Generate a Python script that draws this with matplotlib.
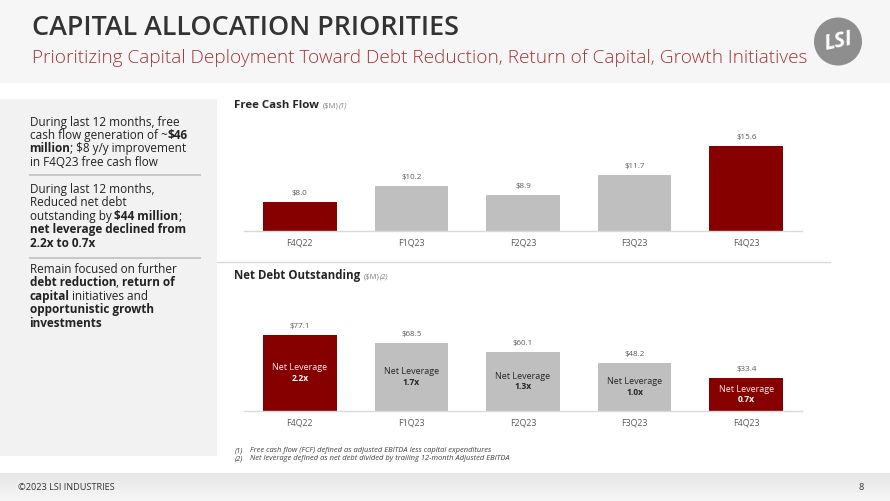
import matplotlib
matplotlib.use("Agg")
import matplotlib.pyplot as plt
from matplotlib.patches import Rectangle, Circle
from matplotlib.colors import LinearSegmentedColormap
import numpy as np

# ---------------- data ----------------
quarters = ["F4Q22", "F1Q23", "F2Q23", "F3Q23", "F4Q23"]
fcf = [8.0, 10.2, 8.9, 11.7, 15.6]
net_debt = [77.1, 68.5, 60.1, 48.2, 33.4]
net_leverage = ["2.2x", "1.7x", "1.3x", "1.0x", "0.7x"]
highlight = [True, False, False, False, True]

title = "CAPITAL ALLOCATION PRIORITIES"
subtitle = "Prioritizing Capital Deployment Toward Debt Reduction, Return of Capital, Growth Initiatives"
fcf_title = "Free Cash Flow"
debt_title = "Net Debt Outstanding"
footnotes = [("(1)", "Free cash flow (FCF) defined as adjusted EBITDA less capital expenditures"),
             ("(2)", "Net leverage defined as net debt divided by trailing 12-month Adjusted EBITDA")]
paragraphs = [
    [[("During last 12 months, free", False)],
     [("cash flow generation of ~", False), ("$46", True)],
     [("million", True), ("; $8 y/y improvement", False)],
     [("in F4Q23 free cash flow", False)]],
    [[("During last 12 months,", False)],
     [("Reduced net debt", False)],
     [("outstanding by ", False), ("$44 million", True), (";", False)],
     [("net leverage declined from", True)],
     [("2.2x to 0.7x", True)]],
    [[("Remain focused on further", False)],
     [("debt reduction", True), (", ", False), ("return of", True)],
     [("capital", True), (" initiatives and", False)],
     [("opportunistic growth", True)],
     [("investments", True)]],
]

# ---------------- style ----------------
RED = "#870000"
GRAY = "#bfbfbf"
TXT = "#262626"
LBL = "#595959"
plt.rcParams['font.family'] = ['Open Sans', 'DejaVu Sans']

W, H = 890, 501
fig = plt.figure(figsize=(W / 100, H / 100), dpi=100)
bg = fig.add_axes([0, 0, 1, 1])
bg.set_xlim(0, W)
bg.set_ylim(H, 0)
bg.axis('off')
renderer = fig.canvas.get_renderer()


def width_of(s, size=10, **kw):
    t = bg.text(0, 0, s, fontsize=size, **kw)
    w = t.get_window_extent(renderer).width
    t.remove()
    return w


def size_for(s, target, **kw):
    return 10 * target / width_of(s, 10, **kw)


def space_w(size, **kw):
    return width_of("a a", size, **kw) - width_of("aa", size, **kw)


# header band
bg.add_patch(Rectangle((0, 0), W, 83, color="#f6f6f6", lw=0))
bg.text(32, 35, title, fontsize=size_for(title, 426, fontweight='semibold'),
        fontweight='semibold', color="#333333", va='baseline', ha='left')
bg.text(32, 62.5, subtitle, fontsize=size_for(subtitle, 772, fontweight='light'),
        fontweight='light', color="#a4343a", va='baseline', ha='left')
# logo
bg.add_patch(Circle((838, 41.5), 24, color="#8e8e8e", lw=0))
bg.text(838, 42, "LSI", fontsize=15, fontweight='bold', fontstyle='italic',
        color='white', ha='center', va='center', rotation=12)

# left panel
bg.add_patch(Rectangle((0, 99), 217, 356.5, color="#f2f2f2", lw=0))
psize = size_for("During last 12 months, free", 150)
base_y = [125.5, 193, 273]
line_h = 13.4
for p, para in enumerate(paragraphs):
    for li, line in enumerate(para):
        x = 29.5
        y = base_y[p] + li * line_h
        for s, bold in line:
            kw = dict(fontweight='bold' if bold else 'normal')
            lead = len(s) - len(s.lstrip(' '))
            trail = len(s) - len(s.rstrip(' '))
            sw = space_w(psize, **kw)
            x += lead * sw
            core = s.strip(' ')
            t = bg.text(x, y, core, fontsize=psize, color="#222222",
                        va='baseline', ha='left', **kw)
            x += t.get_window_extent(renderer).width + trail * sw
for ys in (175, 257.5):
    bg.plot([29, 201], [ys, ys], color="#bfbfbf", lw=1.2, solid_capstyle='butt')

# separator between charts
bg.plot([217, 830], [261.5, 261.5], color="#d9d9d9", lw=1)

# chart titles
for ttl, y, note in ((fcf_title, 107.5, "(1)"), (debt_title, 279, "(2)")):
    tsize = size_for(ttl, 85 if ttl == fcf_title else 127, fontweight='bold')
    t = bg.text(234, y, ttl, fontsize=tsize, fontweight='bold', color=TXT,
                va='baseline', ha='left')
    x = 234 + t.get_window_extent(renderer).width + 3.5
    t2 = bg.text(x, y, "($M)", fontsize=5.5, color="#7f7f7f", va='baseline', ha='left')
    x += t2.get_window_extent(renderer).width + 0.5
    bg.text(x, y, note, fontsize=5.5, color="#7f7f7f", fontstyle='italic',
            va='baseline', ha='left')

# footnotes
fsize = size_for(footnotes[1][1], 259, fontstyle='italic')
for (num, txt), y in zip(footnotes, (450.7, 458.7)):
    bg.text(234.5, y, num, fontsize=fsize, fontstyle='italic', color="#404040",
            va='center', ha='left')
    bg.text(250, y, txt, fontsize=fsize, fontstyle='italic', color="#404040",
            va='center', ha='left')

# footer band (gradient)
cmap = LinearSegmentedColormap.from_list("ft", ["#e6e6e6", "#f7f7f7"])
grad = np.linspace(0, 1, 50).reshape(-1, 1)
bg.imshow(grad, extent=(0, W, 501, 473), cmap=cmap, aspect='auto', zorder=0)
bg.set_xlim(0, W)
bg.set_ylim(H, 0)
csize = size_for("©2023 LSI INDUSTRIES", 96)
bg.text(18.5, 487, "©2023 LSI INDUSTRIES", fontsize=csize, color="#333333",
        va='center', ha='left')
bg.text(861.5, 487, "8", fontsize=csize, color="#333333", va='center', ha='center')

# ---------------- bar charts ----------------
tick_size = size_for("F4Q22", 26.7)
val_size = size_for("$10.2", 20.5)
nl_size = size_for("Net Leverage", 55)
lv_size = size_for("2.2x", 17, fontweight='bold')
_t = bg.text(0, 0, "F4Q22", fontsize=tick_size)
tick_h = _t.get_window_extent(renderer).height
_t.remove()
pad_pt = (12 - tick_h / 2) * 0.72


def make_axes(top_px, base_px):
    left, right = 244, 802
    return fig.add_axes([left / W, (H - base_px) / H, (right - left) / W, (base_px - top_px) / H])


def style(ax):
    ax.set_facecolor('none')
    for s in ('top', 'left', 'right'):
        ax.spines[s].set_visible(False)
    ax.spines['bottom'].set_color("#d9d9d9")
    ax.spines['bottom'].set_linewidth(1)
    ax.set_yticks([])
    ax.set_xlim(-0.5, len(quarters) - 0.5)
    ax.set_xticks(range(len(quarters)))
    ax.set_xticklabels(quarters, fontsize=tick_size, color=LBL)
    ax.tick_params(axis='x', length=0, pad=pad_pt)


colors = [RED if h else GRAY for h in highlight]
xs = np.arange(len(quarters))

# Free Cash Flow: 7.32 px per $M, axis starts at 4
ax1 = make_axes(110, 231)
ax1.bar(xs, fcf, width=0.66, color=colors, bottom=0)
ax1.set_ylim(4, 4 + 121 / 7.32)
style(ax1)
for x, v in zip(xs, fcf):
    ax1.annotate(f"${v:.1f}", (x, v), xytext=(0, 8.6 * 0.72), textcoords='offset points',
                 ha='center', va='center', fontsize=val_size, color=LBL)

# Net Debt: 0.99 px per $M from zero
ax2 = make_axes(295, 411)
ax2.bar(xs, net_debt, width=0.66, color=colors)
ax2.set_ylim(0, 116 / 0.99)
style(ax2)
for x, v, lev, h in zip(xs, net_debt, net_leverage, highlight):
    ax2.annotate(f"${v:.1f}", (x, v), xytext=(0, 8.4 * 0.72), textcoords='offset points',
                 ha='center', va='center', fontsize=val_size, color=LBL)
    c = '#f8eaea' if h else TXT
    ax2.annotate("Net Leverage", (x, v / 2), xytext=(0, 5.2 * 0.72), textcoords='offset points',
                 ha='center', va='center', fontsize=nl_size, color=c)
    ax2.annotate(lev, (x, v / 2), xytext=(0, -5.2 * 0.72), textcoords='offset points',
                 ha='center', va='center', fontsize=lv_size, fontweight='bold',
                 color='white' if h else TXT)

fig.savefig("out.png", dpi=100)
